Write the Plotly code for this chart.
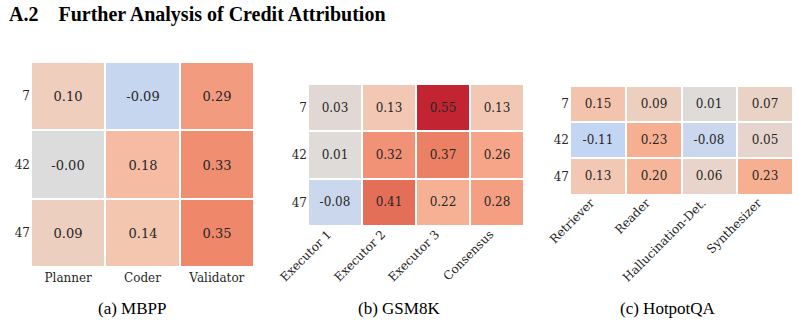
import plotly.graph_objects as go

seeds = ["7", "42", "47"]

mbpp_roles = ["Planner", "Coder", "Validator"]
mbpp_vals = [[0.10, -0.09, 0.29],
             [-0.001, 0.18, 0.33],
             [0.09, 0.14, 0.35]]

gsm_roles = ["Executor 1", "Executor 2", "Executor 3", "Consensus"]
gsm_vals = [[0.03, 0.13, 0.55, 0.13],
            [0.01, 0.32, 0.37, 0.26],
            [-0.08, 0.41, 0.22, 0.28]]

hot_roles = ["Retriever", "Reader", "Hallucination-Det.", "Synthesizer"]
hot_vals = [[0.15, 0.09, 0.01, 0.07],
            [-0.11, 0.23, -0.08, 0.05],
            [0.13, 0.20, 0.06, 0.23]]

coolwarm = [
    [0.0, "#3b4cc0"], [0.1, "#5977e3"], [0.2, "#7b9ff9"], [0.3, "#9ebeff"],
    [0.4, "#c0d4f5"], [0.5, "#dddcdc"], [0.6, "#f2cbb7"], [0.7, "#f7ac8e"],
    [0.8, "#ee8468"], [0.9, "#d65244"], [1.0, "#b40426"],
]

W, H = 799, 324
SERIF = "DejaVu Serif, serif"
TIMES = "Liberation Serif, Times New Roman, serif"

def px_x(v):
    return v / W

def px_y(v):
    return 1 - v / H

panels = [
    (mbpp_roles, mbpp_vals, (31, 254), (62, 267), 13, 0, 0, 2, "(a) MBPP", 132),
    (gsm_roles, gsm_vals, (308, 524), (84, 226), 12, -45, -7, -2, "(b) GSM8K", 399),
    (hot_roles, hot_vals, (570, 793), (86, 194.5), 12, -45, -7, -2, "(c) HotpotQA", 668),
]

fig = go.Figure()
layout = dict(
    width=W, height=H, margin=dict(l=0, r=0, t=0, b=0, autoexpand=False),
    paper_bgcolor="white", plot_bgcolor="white", showlegend=False,
)
annotations = []
for i, (roles, vals, xr, yr, fs, ang, shift, stand, sub, subx) in enumerate(panels):
    sfx = "" if i == 0 else str(i + 1)
    text = [[f"{v:.2f}" for v in row] for row in vals]
    fig.add_trace(go.Heatmap(
        z=vals, x=roles, y=seeds, text=text, texttemplate="%{text}",
        textfont=dict(family=SERIF, size=fs, color="#262626"),
        colorscale=coolwarm, zmin=-0.6, zmax=0.6, showscale=False,
        xgap=2, ygap=2, hoverinfo="skip",
        xaxis="x" + sfx, yaxis="y" + sfx,
    ))
    layout["xaxis" + sfx] = dict(
        domain=[px_x(xr[0]), px_x(xr[1])], anchor="y" + sfx,
        showgrid=False, zeroline=False, ticks="", tickangle=ang,
        ticklabelshift=shift, ticklabelstandoff=stand, automargin=False,
        tickfont=dict(family=SERIF, size=12, color="#262626"),
        fixedrange=True,
    )
    layout["yaxis" + sfx] = dict(
        domain=[px_y(yr[1]), px_y(yr[0])], anchor="x" + sfx,
        autorange="reversed", showgrid=False, zeroline=False, ticks="",
        automargin=False,
        tickfont=dict(family=SERIF, size=12, color="#262626"),
        fixedrange=True,
    )
    annotations.append(dict(
        text=sub, x=px_x(subx), y=px_y(308), xref="paper", yref="paper",
        xanchor="center", yanchor="middle", showarrow=False,
        font=dict(family=TIMES, size=17, color="black"),
    ))

annotations.append(dict(
    text="<b>A.2</b>&nbsp;&nbsp;&nbsp;&nbsp;<b>Further Analysis of Credit Attribution</b>",
    x=px_x(7), y=px_y(15), xref="paper", yref="paper",
    xanchor="left", yanchor="middle", showarrow=False,
    font=dict(family=TIMES, size=20, color="black"),
))
layout["annotations"] = annotations
fig.update_layout(**layout)
fig.write_html("out.html")
